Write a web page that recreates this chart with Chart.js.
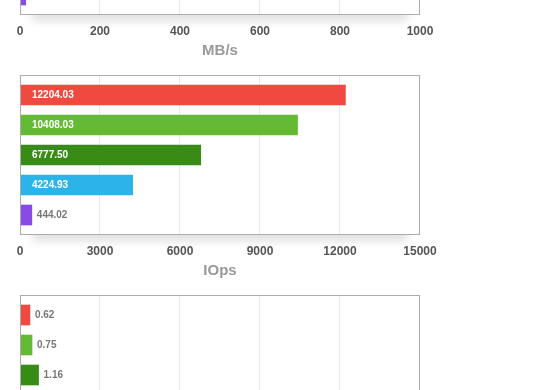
<!DOCTYPE html>
<html>
<head>
<meta charset="utf-8">
<script src="https://cdn.jsdelivr.net/npm/chart.js"></script>
<style>
	html, body { margin: 0; padding: 0; background: #fff; overflow: hidden; }
	#page { margin-top: -160px; }
	.block { width: 560px; height: 220px; }
</style>
</head>
<body>
<div id="page">
	<div class="block"><canvas id="chartMbps" width="560" height="220"></canvas></div>
	<div class="block"><canvas id="chartIops" width="560" height="220"></canvas></div>
	<div class="block"><canvas id="chartLatency" width="560" height="220"></canvas></div>
</div>
<script>
var categories = ['Config A', 'Config B', 'Config C', 'Config D', 'Config E'];
var barColors = ['#f04a40', '#64ba34', '#388b14', '#2bb3ea', '#8a4ae6'];

// the first chart is mostly scrolled away, only the last bar shows
var mbpsValues = [47.67, 40.66, 26.47, 16.50, 14.20];
var iopsValues = [12204.03, 10408.03, 6777.50, 4224.93, 444.02];
var latencyValues = [0.62, 0.75, 1.16, 1.89, 18.01];

var mbpsTicks = { max: 1000, step: 200 };
var iopsTicks = { max: 15000, step: 3000 };
var latencyTicks = { max: 25, step: 5 };

var fontFamily = '"Helvetica Neue", Helvetica, Arial, "Liberation Sans", sans-serif';

// frame, shadow and full-height grid lines around the bars
var framePlugin = {
	id: 'frame',
	beforeDatasetsDraw: function (chart) {
		var ctx = chart.ctx;
		var area = chart.chartArea;
		var top = area.top - 5;
		var bottom = area.bottom + 5;
		var w = area.right - area.left;

		// soft shadow only under the bottom edge
		ctx.save();
		ctx.shadowColor = 'rgba(0,0,0,0.13)';
		ctx.shadowBlur = 10;
		ctx.shadowOffsetY = 6;
		ctx.fillStyle = '#fff';
		ctx.fillRect(area.left + 12, bottom - 12, w - 24, 12);
		ctx.restore();
		ctx.fillStyle = '#fff';
		ctx.fillRect(area.left, top, w, bottom - top);

		var xScale = chart.scales.x;
		ctx.save();
		ctx.strokeStyle = '#e8e8e8';
		ctx.lineWidth = 1;
		xScale.ticks.forEach(function (t, i) {
			if (i === 0 || i === xScale.ticks.length - 1) return;
			var x = Math.round(xScale.getPixelForValue(t.value)) - 0.5;
			ctx.beginPath();
			ctx.moveTo(x, top);
			ctx.lineTo(x, bottom);
			ctx.stroke();
		});
		ctx.restore();
	},
	afterDatasetsDraw: function (chart) {
		var ctx = chart.ctx;
		var area = chart.chartArea;
		ctx.save();
		ctx.strokeStyle = '#ababab';
		ctx.lineWidth = 1;
		ctx.strokeRect(area.left + 0.5, area.top - 4.5, area.right - area.left - 1, area.bottom - area.top + 9);
		ctx.restore();

		// value labels: inside in white if they fit, else grey after the bar
		var meta = chart.getDatasetMeta(0);
		var values = chart.data.datasets[0].data;
		ctx.save();
		ctx.font = 'bold 10px ' + fontFamily;
		ctx.textBaseline = 'middle';
		meta.data.forEach(function (bar, i) {
			var p = bar.getProps(['x', 'y', 'base'], true);
			var text = values[i].toFixed(2);
			var w = ctx.measureText(text).width;
			if (p.x - p.base > w + 24) {
				ctx.fillStyle = '#fff';
				ctx.fillText(text, p.base + 12, p.y + 0.5);
			} else {
				ctx.fillStyle = '#777';
				ctx.fillText(text, p.x + 5, p.y + 0.5);
			}
		});
		ctx.restore();
	}
};

function makeBarChart(canvasId, values, ticks, title) {
	var ctx = document.getElementById(canvasId).getContext('2d');
	return new Chart(ctx, {
		type: 'bar',
		data: {
			labels: categories,
			datasets: [{
				data: values,
				backgroundColor: barColors,
				borderWidth: 0,
				barThickness: 20
			}]
		},
		options: {
			indexAxis: 'y',
			responsive: false,
			animation: false,
			layout: { padding: { top: 20, left: 20, right: 140, bottom: 0 } },
			scales: {
				y: { display: false },
				x: {
					min: 0,
					max: ticks.max,
					border: { display: false },
					grid: { display: false, drawTicks: false },
					afterFit: function (scale) {
						scale.height = 50;
					},
					ticks: {
						stepSize: ticks.step,
						padding: 14,
						color: '#555',
						font: { family: fontFamily, size: 12, weight: 'bold' },
						callback: function (value) {
							return String(value);
						}
					},
					title: {
						display: true,
						text: title,
						color: '#999',
						padding: { top: 4, bottom: 0 },
						font: { family: fontFamily, size: 15, weight: 'bold' }
					}
				}
			},
			plugins: {
				legend: { display: false },
				tooltip: { enabled: false }
			}
		},
		plugins: [framePlugin]
	});
}

makeBarChart('chartMbps', mbpsValues, mbpsTicks, 'MB/s');
makeBarChart('chartIops', iopsValues, iopsTicks, 'IOps');
makeBarChart('chartLatency', latencyValues, latencyTicks, 'ms');
</script>
</body>
</html>
